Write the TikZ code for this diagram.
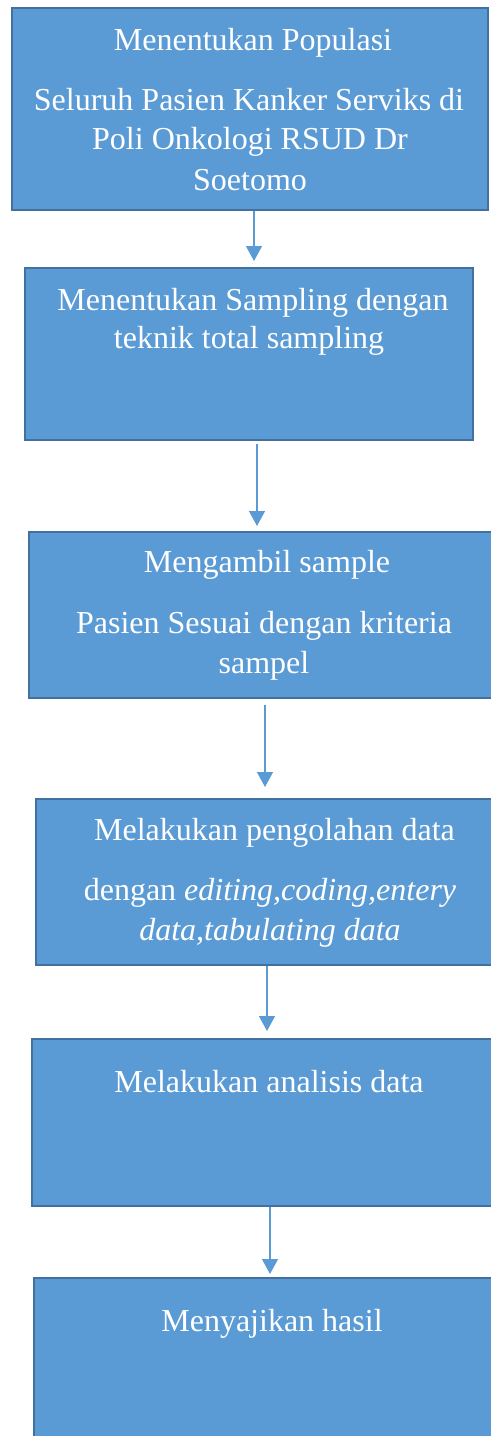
\documentclass[tikz,border=0pt]{standalone}
\usepackage{fontspec}
\setmainfont{Liberation Serif}
\usetikzlibrary{arrows.meta}
\definecolor{boxfill}{HTML}{5B9BD5}
\definecolor{boxline}{HTML}{41719C}
\tikzset{
  flowbox/.style={draw=boxline, line width=1pt, fill=boxfill, rectangle, inner sep=0pt},
  txt/.style={text=white, font=\fontsize{16pt}{20pt}\selectfont, anchor=base, inner sep=0pt},
  arr/.style={draw=boxfill, line width=0.65pt, -{Triangle[width=8pt,length=7.5pt]}}
}
\begin{document}
\begin{tikzpicture}[x=0.5pt,y=-0.5pt]
\useasboundingbox (0,0) rectangle (491,1436);
\clip (0,0) rectangle (491,1436);
% boxes
\node[flowbox, minimum width=238pt, minimum height=101pt] (b1) at (250,109) {};
\node[flowbox, minimum width=224pt, minimum height=86pt] (b2) at (249,354) {};
\node[flowbox, minimum width=236pt, minimum height=83pt] (b3) at (265,615) {};
\node[flowbox, minimum width=235pt, minimum height=83pt] (b4) at (271,882) {};
\node[flowbox, minimum width=237pt, minimum height=83.5pt] (b5) at (269,1122.5) {};
\node[flowbox, minimum width=238pt, minimum height=86pt] (b6) at (272,1364) {};
% texts
\node[txt] (t1a) at (253,50) {Menentukan Populasi};
\node[txt] (t1b) at (249,110) {Seluruh Pasien Kanker Serviks di};
\node[txt] (t1c) at (250,149) {Poli Onkologi RSUD Dr};
\node[txt] (t1d) at (250,190) {Soetomo};
\node[txt] (t2a) at (253,310) {Menentukan Sampling dengan};
\node[txt] (t2b) at (249,348) {teknik total sampling};
\node[txt] (t3a) at (267,572) {Mengambil sample};
\node[txt] (t3b) at (264,633) {Pasien Sesuai dengan kriteria};
\node[txt] (t3c) at (264,673) {sampel};
\node[txt] (t4a) at (274.5,840) {Melakukan pengolahan data};
\node[txt] (t4b) at (270,900) {dengan \textit{editing,coding,entery}};
\node[txt] (t4c) at (270,940) {\textit{data,tabulating data}};
\node[txt] (t5a) at (269,1092) {Melakukan analisis data};
\node[txt] (t6a) at (272,1331) {Menyajikan hasil};
% arrows
\draw[arr, shorten >=3pt] ([xshift=2pt]b1.south) -- ([xshift=2pt]b1.south |- b2.north);
\draw[arr, shorten <=1.5pt, shorten >=2.5pt] ([xshift=4pt]b2.south) -- ([xshift=4pt]b2.south |- b3.north);
\draw[arr, shorten <=3pt, shorten >=5.5pt] (b3.south) -- (b3.south |- b4.north);
\draw[arr, shorten >=3.5pt] ([xshift=-2pt]b4.south) -- ([xshift=-2pt]b4.south |- b5.north);
\draw[arr, shorten >=1.5pt] ([xshift=0.5pt]b5.south) -- ([xshift=0.5pt]b5.south |- b6.north);
\end{tikzpicture}
\end{document}
